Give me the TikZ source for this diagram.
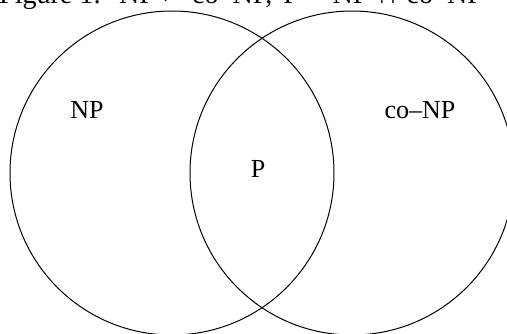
\documentclass[tikz,border=0pt]{standalone}
\usepackage{fontspec}
\setmainfont{Liberation Serif}
\tikzset{
  setcircle/.style={draw=black, line width=1pt},
  setlabel/.style={font=\fontsize{26}{30}\selectfont, inner sep=0pt},
  captiontext/.style={font=\fontsize{28}{32}\selectfont, inner sep=0pt},
}
\begin{document}
\begin{tikzpicture}[x=1pt,y=-1pt]
\useasboundingbox (0,0) rectangle (507,333);
\node[captiontext, anchor=base west] (caption) at (-1,3.5) {Figure 1:\hspace{18pt}NP\hspace{8pt}≠\hspace{14pt}co–NP, \hspace{4pt}P\hspace{9pt}=\hspace{9pt}NP\hspace{9pt}∩\hspace{9pt}co–NP};
\draw[setcircle] (172,173) circle[radius=162];
\draw[setcircle] (352,173) circle[radius=162];
\node[setlabel] (np) at (87,110) {NP};
\node[setlabel] (p) at (258,169) {P};
\node[setlabel] (conp) at (420,110) {co–NP};
\end{tikzpicture}
\end{document}
